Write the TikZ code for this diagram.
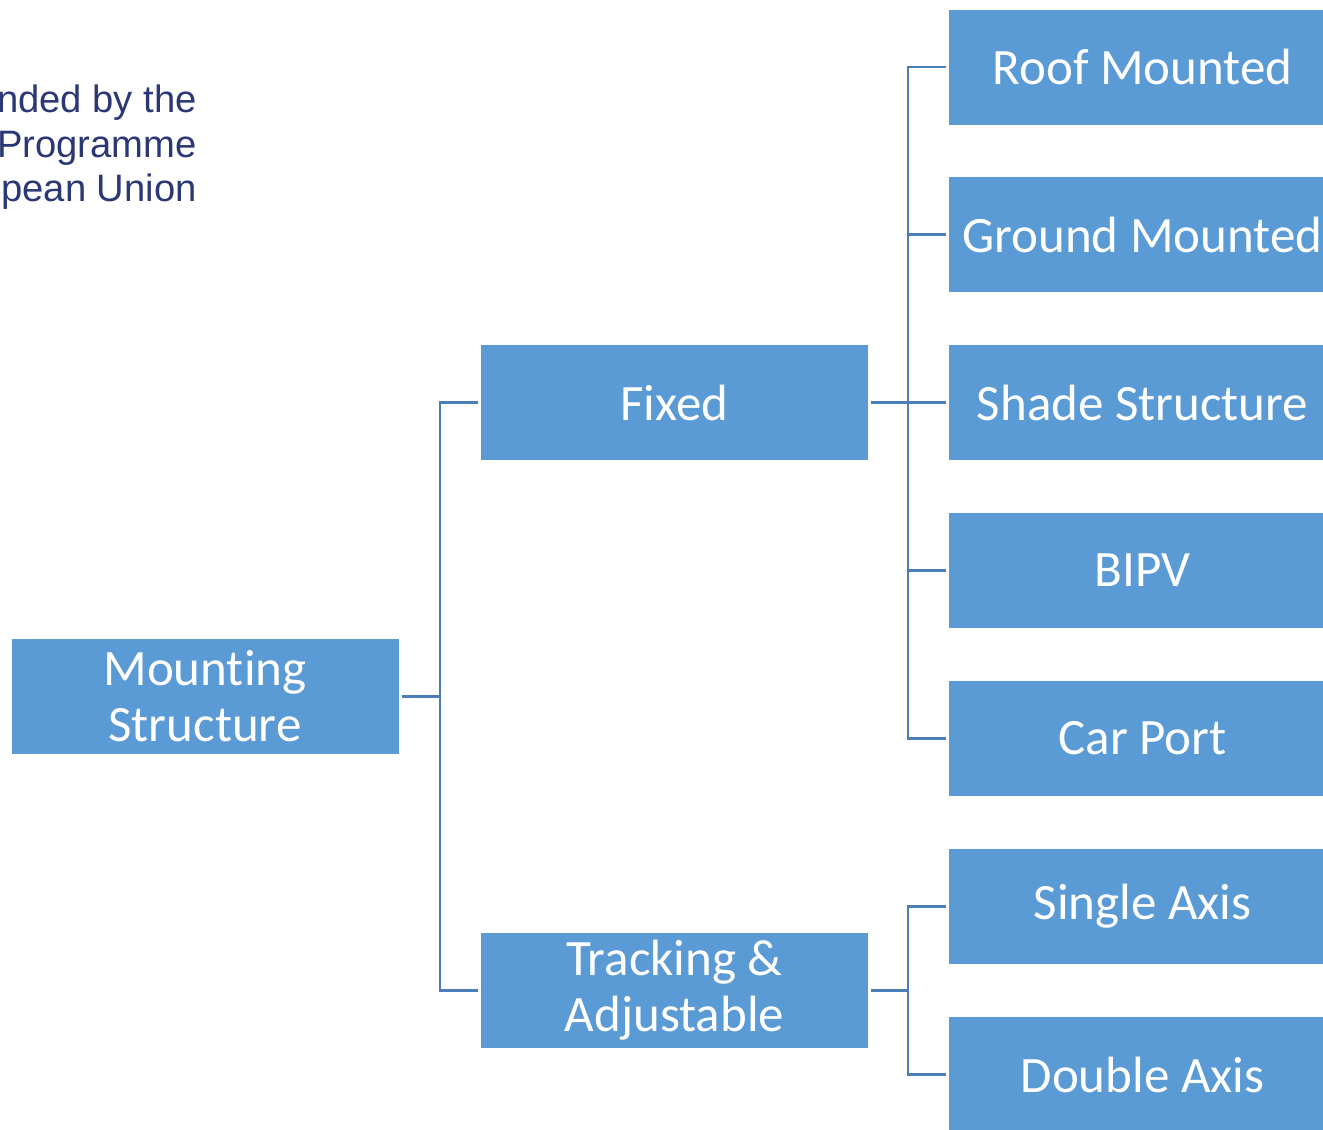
\documentclass[tikz,border=0pt]{standalone}
\usepackage{fontspec}
\setmainfont{Carlito}[Ligatures=NoCommon]
\newfontfamily\arialf{Liberation Sans}
\definecolor{boxblue}{HTML}{5B9BD5}
\definecolor{linkblue}{HTML}{4A7EBB}
\definecolor{navytext}{HTML}{2B3875}
\tikzset{
  box/.style={fill=boxblue, draw=none, text=white, minimum width=387pt, minimum height=115pt,
    inner sep=0pt, align=center, font=\fontsize{51}{56}\selectfont},
  conn/.style={draw=linkblue, line width=2.4pt, shorten <=3pt, shorten >=3pt},
  logo/.style={text=navytext, font=\arialf\fontsize{38.2}{44}\selectfont, inner sep=0pt, anchor=base east}
}
\begin{document}
\begin{tikzpicture}[x=1pt,y=-1pt]
\useasboundingbox (0,0) rectangle (1323,1130);
\clip (0,0) rectangle (1323,1130);
\fill[white] (0,0) rectangle (1323,1130);
% logo text fragment
\node[logo] (l1) at (197,112) {nded by the};
\node[logo] (l2) at (197,157) {Programme};
\node[logo] (l3) at (197,201) {pean Union};
% boxes
\node[box] (ms) at (205,696.5) {Mounting\\Structure};
\node[box] (fixed) at (674.5,402.5) {Fixed};
\node[box] (track) at (674.5,990.5) {Tracking \&\\Adjustable};
\node[box] (roof) at (1142.5,67) {Roof Mounted};
\node[box] (ground) at (1142.5,234.5) {Ground Mounted};
\node[box] (shade) at (1142.5,402.5) {Shade Structure};
\node[box] (bipv) at (1142.5,570.5) {BIPV};
\node[box] (car) at (1142.5,738.5) {Car Port};
\node[box] (single) at (1142.5,906.5) {Single Axis};
\node[box] (double) at (1142.5,1074.5) {Double Axis};
% junction coordinates
\coordinate (j1) at (440,696.5);
\coordinate (j2) at (908,402.5);
\coordinate (j3) at (908,990.5);
% connectors
\draw[conn] (ms.east) -- (j1) |- (fixed.west);
\draw[conn] (ms.east) -- (j1) |- (track.west);
\foreach \c in {roof,ground,shade,bipv,car}{
  \draw[conn] (fixed.east) -- (j2) |- (\c.west);
}
\foreach \c in {single,double}{
  \draw[conn] (track.east) -- (j3) |- (\c.west);
}
\end{tikzpicture}
\end{document}
